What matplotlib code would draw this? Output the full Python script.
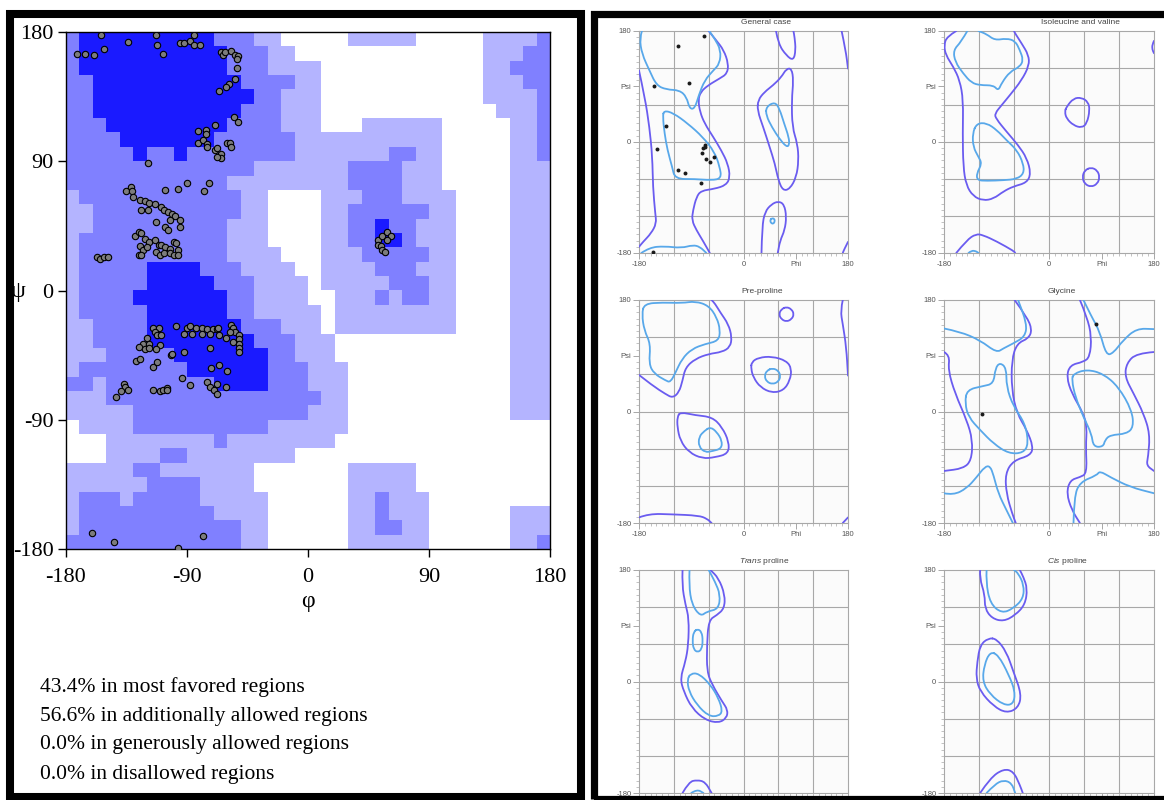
import numpy as np
import matplotlib
matplotlib.use("Agg")
import matplotlib.pyplot as plt
from matplotlib.colors import ListedColormap
from matplotlib.path import Path
from matplotlib.patches import PathPatch, Rectangle

plt.rcParams["mathtext.fontset"] = "custom"
plt.rcParams["mathtext.it"] = "Liberation Sans:italic"
plt.rcParams["mathtext.rm"] = "Liberation Sans"

# ---------------- data: PROCHECK-style region grid (10 deg cells, psi 180 -> -180 rows) ----------------
# 0 = disallowed, 1 = generously allowed, 2 = additionally allowed, 3 = most favoured
region_rows = [
    "233333333332221100000111110000011112",
    "233333333333222110000000000000011122",
    "233333333333222111100000000000011222",
    "223333333333322221100000000000011122",
    "223333333333332211100000000000011112",
    "223333333333322211100000000000001112",
    "222333333333222211100011111100000112",
    "222233333332222221111111111100000112",
    "222223223222222221111111221100000112",
    "222222222222221111111222211100000111",
    "222222222222111111111222211100000111",
    "122222222222211000011122211110000111",
    "112222222222211000011222222110000111",
    "112222222222111000011223221110000111",
    "122222222222111000011223321110000111",
    "122222222222111100011122222110000111",
    "122222333322211110011112221110000111",
    "122222333332221111011111222110000111",
    "122223333333221111001112122110000111",
    "122222333333221111101111111110000111",
    "112222333333322211101111111110000111",
    "112222333333332221110000000000000111",
    "111222223333333221110000000000000111",
    "122222222333333222111000000000000111",
    "221222222223333222111000000000000111",
    "111222222222222222211000000000000111",
    "111112222222222222111000000000000111",
    "011112222222222111111000000000000000",
    "000111111112111111110000000000000000",
    "000111122111111110000000000000000000",
    "111112211111110000000111110000000000",
    "111111222211110000000111110000000000",
    "122212222211111000000112111000000000",
    "122222222221111000000112111000000111",
    "122222222222211000000112211000000111",
    "222222222222211000000111111000000112",
]

rama_beta = [
    (-154, 178), (-113, 178), (-85, 178), (-134, 173), (-112, 171), (-95, 172), (-92, 172),
    (-88, 174), (-85, 171), (-80, 171), (-172, 165), (-166, 165), (-159, 164), (-152, 168),
    (-108, 165), (-65, 166), (-63, 164), (-62, 166), (-57, 167), (-54, 164), (-52, 163),
    (-53, 161), (-53, 155), (-54, 147), (-59, 144), (-61, 142), (-66, 139), (-55, 121),
    (-52, 117), (-69, 115), (-76, 112), (-82, 111), (-76, 109), (-82, 103), (-78, 105),
    (-75, 102), (-75, 100), (-69, 98), (-68, 99), (-65, 95), (-65, 92), (-68, 93), (-60, 103),
    (-58, 103), (-57, 100), (-119, 89),
    (-132, 72), (-135, 69), (-131, 69), (-130, 65), (-106, 70), (-97, 71), (-90, 75), (-74, 75),
    (-77, 69), (-125, 63), (-121, 62), (-118, 61), (-114, 60), (-109, 58), (-107, 56), (-104, 55),
    (-101, 53), (-99, 52), (-95, 49), (-124, 56), (-119, 56), (-113, 48), (-103, 49), (-106, 44),
    (-104, 42), (-95, 44), (-129, 38), (-126, 41), (-124, 40), (-121, 36), (-118, 34), (-114, 35),
    (-111, 32), (-109, 32), (-106, 30), (-103, 29), (-100, 34), (-98, 33), (-125, 31), (-123, 28),
    (-126, 25), (-124, 25), (-120, 30), (-113, 27), (-110, 25), (-107, 26), (-103, 26), (-100, 25),
    (-97, 28), (-97, 25), (-157, 23), (-155, 22), (-152, 23), (-149, 23),
    (-161, -169), (-144, -175), (-78, -171), (-97, -179),
]
rama_alpha = [
    (-115, -26), (-111, -26), (-114, -29), (-112, -31), (-109, -31), (-98, -25), (-90, -26),
    (-88, -25), (-83, -26), (-79, -26), (-75, -27), (-71, -27), (-68, -27), (-67, -26),
    (-92, -30), (-86, -30), (-79, -30), (-73, -30), (-57, -24), (-56, -26), (-54, -29), (-58, -29),
    (-51, -31), (-51, -34), (-51, -37), (-51, -40), (-51, -43), (-56, -36), (-61, -33), (-66, -31),
    (-120, -33), (-123, -37), (-118, -37), (-126, -39), (-121, -41), (-118, -40), (-110, -38),
    (-113, -41), (-73, -40), (-92, -43), (-102, -45), (-101, -44), (-128, -49), (-125, -48),
    (-115, -53), (-112, -50), (-72, -54), (-66, -52), (-60, -56), (-94, -61), (-88, -66),
    (-75, -64), (-73, -67), (-68, -65), (-61, -67), (-70, -69), (-68, -72), (-137, -65),
    (-136, -67), (-139, -70), (-143, -74), (-134, -69), (-115, -69), (-110, -70), (-108, -69),
    (-105, -68), (-105, -69),
]
rama_left = [(52, 35), (55, 38), (59, 41), (62, 38), (59, 35), (52, 32), (54, 31), (55, 28), (57, 27)]

rama_ticks = [-180, -90, 0, 90, 180]
rama_tick_labels = ["-180", "-90", "0", "90", "180"]
summary_lines = [
    "43.4% in most favored regions",
    "56.6% in additionally allowed regions",
    "0.0% in generously allowed regions",
    "0.0% in disallowed regions",
]

# ---------------- data: MolProbity-style contour panels (phi, psi); closed loops end where they start ----------------
general_outer = [
    [(-180, 116), (-170, 73), (-162, 24), (-157, -24), (-156, -73), (-152, -116), (-150, -132),
     (-159, -148), (-173, -162), (-180, -170)],
    [(-60, 180), (-47, 165), (-34, 149), (-26, 127), (-28, 111), (-41, 103), (-61, 92), (-74, 81),
     (-78, 68), (-75, 49), (-67, 30), (-52, 8), (-38, -14), (-27, -35), (-23, -57), (-30, -70),
     (-50, -76), (-73, -79), (-81, -89), (-87, -111), (-89, -127), (-81, -143), (-70, -160), (-58, -180)],
    [(25, 68), (36, 81), (51, 92), (65, 105), (74, 119), (83, 119), (86, 100), (83, 68), (84, 24),
     (93, -3), (95, -30), (91, -57), (80, -76), (68, -79), (60, -62), (54, -35), (45, -8), (34, 24),
     (24, 51), (25, 68)],
    [(56, 180), (60, 159), (74, 140), (86, 132), (90, 149), (88, 170), (86, 180)],
    [(31, -180), (32, -137), (37, -113), (48, -101), (60, -96), (70, -101), (74, -121), (71, -143),
     (63, -160), (59, -180)],
    [(169, 180), (176, 149), (180, 119)],
    [(180, -162), (173, -175), (171, -180)],
]
general_inner = [
    [(-175, 180), (-179, 168), (-175, 143), (-162, 116), (-150, 92), (-133, 85), (-110, 84),
     (-98, 73), (-93, 54), (-84, 54), (-77, 76), (-67, 100), (-52, 116), (-41, 127), (-39, 149),
     (-50, 168), (-59, 180)],
    [(-176, -180), (-162, -171), (-136, -169), (-107, -172), (-87, -167), (-75, -170), (-64, -180)],
    [(-137, 51), (-121, 47), (-96, 30), (-70, 8), (-50, -16), (-41, -40), (-38, -59), (-55, -62),
     (-84, -60), (-118, -60), (-123, -40), (-131, -13), (-136, 14), (-139, 41), (-137, 51)],
    [(39, 57), (54, 65), (62, 54), (70, 30), (78, 8), (79, -5), (74, -8), (62, 5), (49, 24),
     (39, 43), (39, 57)],
    [(48, -124), (53, -124), (54, -129), (51, -133), (47, -131), (46, -127), (48, -124)],
]
general_phi = [-68, -112, -94, -154, -133, -149, -67, -66, -69, -72, -64, -57, -51, -113, -101, -73, -156]
general_psi = [172, 156, 96, 91, 26, -11, -8, -5, -10, -18, -28, -32, -24, -45, -51, -67, -178]

ile_val_outer = [
    [(-159, 180), (-175, 171), (-180, 157), (-177, 141), (-164, 122), (-153, 100), (-147, 68),
     (-148, 14), (-147, -40), (-142, -70), (-130, -88), (-113, -95), (-95, -92), (-78, -80),
     (-61, -72), (-38, -66), (-31, -51), (-38, -26), (-53, -5), (-73, 17), (-91, 38), (-93, 46),
     (-81, 60), (-67, 76), (-47, 100), (-34, 124), (-35, 141), (-47, 160), (-58, 176), (-60, 180)],
    [(30, 57), (42, 71), (56, 72), (67, 65), (70, 52), (65, 30), (56, 23), (42, 27), (30, 38),
     (27, 49), (30, 57)],
    [(72, -41), (83, -46), (87, -57), (83, -68), (72, -73), (61, -68), (57, -57), (61, -46), (72, -41)],
    [(180, 164), (177, 158), (177, 150), (180, 144)],
    [(-159, -180), (-141, -159), (-125, -149), (-113, -151), (-90, -161), (-60, -177), (-58, -180)],
]
ile_val_inner = [
    [(-140, 180), (-151, 162), (-164, 149), (-161, 130), (-147, 111), (-133, 96), (-118, 92),
     (-95, 92), (-87, 83), (-81, 96), (-67, 114), (-50, 122), (-44, 133), (-50, 149), (-58, 164),
     (-73, 168), (-93, 165), (-107, 175), (-121, 180)],
    [(-124, 30), (-107, 31), (-89, 19), (-73, 3), (-55, -13), (-44, -35), (-43, -51), (-55, -60),
     (-78, -62), (-107, -63), (-123, -62), (-124, -51), (-115, -35), (-121, -24), (-130, -8),
     (-131, 14), (-124, 30)],
    [(-138, -180), (-133, -176), (-125, -177), (-121, -180)],
]

pre_pro_outer = [
    [(-180, 59), (-157, 42), (-134, 28), (-122, 22), (-111, 31), (-105, 50), (-100, 71), (-83, 85),
     (-60, 93), (-37, 96), (-23, 104), (-20, 120), (-26, 141), (-40, 160), (-49, 174), (-55, 180)],
    [(-180, -171), (-163, -165), (-123, -166), (-77, -168), (-63, -173), (-55, -180)],
    [(74, 169), (83, 165), (87, 157), (83, 149), (74, 145), (65, 149), (61, 157), (65, 165), (74, 169)],
    [(14, 80), (26, 87), (49, 89), (74, 82), (83, 69), (80, 50), (69, 34), (49, 30), (29, 39),
     (17, 55), (13, 69), (14, 80)],
    [(-109, -1), (-83, -6), (-54, -9), (-37, -25), (-25, -49), (-26, -68), (-49, -74), (-71, -76),
     (-94, -66), (-109, -47), (-114, -25), (-114, -9), (-109, -1)],
    [(171, 180), (167, 163), (171, 141), (177, 104), (180, 58)],
    [(171, -180), (180, -171)],
]
pre_pro_inner = [
    [(-171, 174), (-140, 176), (-106, 175), (-83, 178), (-60, 171), (-46, 152), (-40, 131),
     (-43, 114), (-66, 109), (-89, 101), (-106, 85), (-117, 63), (-126, 47), (-134, 50),
     (-154, 61), (-163, 77), (-160, 109), (-171, 131), (-175, 157), (-171, 174)],
    [(50, 70), (60, 66), (64, 57), (60, 48), (50, 44), (40, 48), (36, 57), (40, 66), (50, 70)],
    [(-57, -25), (-46, -33), (-37, -47), (-38, -60), (-54, -64), (-66, -66), (-77, -57), (-77, -41),
     (-67, -31), (-57, -25)],
]

glycine_outer = [
    [(-180, 96), (-170, 91), (-173, 67), (-161, 29), (-141, -14), (-131, -46), (-133, -79),
     (-147, -92), (-180, -96)],
    [(-59, 180), (-38, 153), (-29, 132), (-35, 118), (-55, 110), (-64, 83), (-64, 35), (-55, -3),
     (-38, -30), (-27, -57), (-32, -71), (-61, -79), (-75, -100), (-73, -133), (-63, -165), (-57, -180)],
    [(53, 180), (65, 153), (73, 121), (70, 88), (59, 80), (36, 75), (30, 56), (39, 29), (59, -3),
     (65, -25), (63, -57), (65, -100), (53, -106), (36, -111), (30, -132), (39, -159), (53, -180)],
    [(180, 96), (150, 94), (133, 78), (130, 56), (145, 29), (162, -3), (173, -36), (170, -73),
     (167, -87), (180, -96)],
]
glycine_inner = [
    [(-180, 134), (-153, 129), (-118, 115), (-90, 95), (-78, 102), (-61, 110), (-41, 121),
     (-38, 142), (-53, 180)],
    [(-141, 35), (-113, 41), (-95, 45), (-92, 70), (-84, 79), (-73, 70), (-73, 40), (-61, 8),
     (-41, -19), (-35, -52), (-44, -67), (-69, -68), (-95, -52), (-118, -30), (-138, -9),
     (-144, 13), (-141, 35)],
    [(-180, -132), (-164, -135), (-141, -124), (-124, -106), (-110, -89), (-101, -88), (-95, -103),
     (-87, -132), (-73, -159), (-62, -180)],
    [(59, 180), (73, 153), (87, 129), (98, 91), (110, 94), (127, 115), (150, 134), (180, 133)],
    [(42, 61), (65, 68), (93, 61), (119, 40), (142, 2), (145, -25), (133, -36), (105, -38),
     (96, -46), (93, -57), (76, -57), (73, -36), (59, -9), (45, 24), (39, 51), (42, 61)],
    [(42, -180), (43, -138), (53, -114), (82, -103), (87, -96), (105, -106), (139, -122), (180, -132)],
]
glycine_phi = [-115, 81]
glycine_psi = [-4, 142]

trans_pro_outer = [
    [(-105, 180), (-106, 156), (-100, 124), (-94, 102), (-95, 59), (-100, 32), (-109, 5),
     (-103, -16), (-89, -43), (-66, -62), (-43, -67), (-29, -59), (-27, -46), (-37, -32),
     (-54, -5), (-63, 16), (-63, 59), (-60, 99), (-46, 107), (-33, 118), (-32, 140), (-43, 167),
     (-57, 180)],
    [(-105, -180), (-94, -162), (-80, -159), (-66, -162), (-55, -180)],
]
trans_pro_inner = [
    [(-93, 180), (-94, 156), (-89, 124), (-74, 105), (-63, 113), (-43, 117), (-40, 140),
     (-49, 161), (-60, 180)],
    [(-79, 85), (-72, 80), (-70, 66), (-72, 52), (-79, 47), (-86, 52), (-88, 66), (-86, 80), (-79, 85)],
    [(-91, 13), (-77, 13), (-57, -5), (-43, -27), (-36, -48), (-43, -56), (-60, -56), (-80, -38),
     (-94, -16), (-97, 3), (-91, 13)],
    [(-90, -180), (-80, -174), (-69, -180)],
]

cis_pro_outer = [
    [(-118, 180), (-119, 167), (-110, 140), (-110, 118), (-98, 102), (-78, 97), (-58, 107),
     (-41, 124), (-37, 150), (-44, 169), (-50, 180)],
    [(-104, 70), (-118, 59), (-123, 32), (-125, 5), (-118, -16), (-95, -40), (-73, -51),
     (-53, -43), (-47, -21), (-61, 16), (-73, 48), (-90, 69), (-104, 70)],
    [(-118, -180), (-101, -156), (-78, -141), (-61, -145), (-50, -167), (-45, -180)],
]
cis_pro_inner = [
    [(-107, 180), (-108, 161), (-101, 126), (-81, 110), (-61, 118), (-44, 134), (-43, 156),
     (-53, 175), (-60, 180)],
    [(-101, 48), (-111, 27), (-114, 0), (-101, -21), (-78, -38), (-61, -37), (-58, -16),
     (-69, 11), (-87, 43), (-101, 48)],
    [(-107, -180), (-93, -166), (-78, -159), (-64, -164), (-58, -180)],
]

# ---------------- figure ----------------
W, H = 1164, 800
fig = plt.figure(figsize=(W / 100, H / 100), dpi=100)
fig.patch.set_facecolor("white")

SERIF = ["Liberation Serif", "DejaVu Serif"]
SANS = ["Liberation Sans", "DejaVu Sans"]
OUTER = "#6a5cf0"
INNER = "#58a8ea"


def px_axes(x0, y0, x1, y1):
    return fig.add_axes([x0 / W, 1 - y1 / H, (x1 - x0) / W, (y1 - y0) / H])


def curve_path(pts):
    closed = pts[0] == pts[-1]
    v = np.asarray(pts[:-1] if closed else pts, dtype=float)
    if closed:
        mids = (v + np.roll(v, -1, axis=0)) / 2
        verts, codes = [mids[-1]], [Path.MOVETO]
        for i in range(len(v)):
            verts += [v[i], mids[i]]
            codes += [Path.CURVE3, Path.CURVE3]
    else:
        verts, codes = [v[0]], [Path.MOVETO]
        for i in range(1, len(v) - 1):
            verts += [v[i], (v[i] + v[i + 1]) / 2]
            codes += [Path.CURVE3, Path.CURVE3]
        verts.append(v[-1])
        codes.append(Path.LINETO)
    return Path(verts, codes)


def draw_lines(ax, contours, color):
    for pts in contours:
        ax.add_patch(PathPatch(curve_path(pts), fill=False, edgecolor=color, lw=1.3,
                               joinstyle="round", capstyle="round", zorder=3))


# ---- left: Ramachandran regions ----
assert all(len(r) == 36 for r in region_rows) and len(region_rows) == 36
grid = np.array([[int(c) for c in row] for row in region_rows])
ax = px_axes(66, 32, 550, 549)
cmap = ListedColormap(["white", "#b4b4ff", "#8080ff", "#1a1aff"])
ax.imshow(grid, cmap=cmap, vmin=0, vmax=3, extent=(-180, 180, -180, 180),
          interpolation="nearest", aspect="auto", zorder=1)
for group in (rama_beta, rama_alpha, rama_left):
    ph, ps = zip(*group)
    ax.scatter(ph, ps, s=21, c="#7c7c7c", edgecolors="black", linewidths=0.8, zorder=3)
ax.set_xlim(-180, 180)
ax.set_ylim(-180, 180)
ax.set_xticks(rama_ticks, rama_tick_labels)
ax.set_yticks(rama_ticks, rama_tick_labels)
ax.tick_params(direction="out", length=6, width=1, labelsize=16)
ax.tick_params(axis="x", pad=8)
ax.tick_params(axis="y", pad=3)
for lab in ax.get_xticklabels() + ax.get_yticklabels():
    lab.set_fontfamily(SERIF)
for s in ax.spines.values():
    s.set_linewidth(1)
fig.text(18 / W, 1 - 291 / H, "ψ", fontsize=17, family=SERIF, ha="center", va="center")
fig.text(308 / W, 1 - 602 / H, "φ", fontsize=17, family=SERIF, ha="center", va="center")
for k, line in enumerate(summary_lines):
    fig.text(40 / W, 1 - (687 + 29 * k) / H, line, fontsize=15.5, family=SERIF,
             ha="left", va="center")

# ---- right: contour panels ----
panels = [
    ("General case", 639, 31, 848, 253, general_outer, general_inner, general_phi, general_psi, 0.61),
    ("Isoleucine and valine", 944, 31, 1154, 253, ile_val_outer, ile_val_inner, [], [], 0.65),
    ("Pre-proline", 639, 300, 848, 523, pre_pro_outer, pre_pro_inner, [], [], 0.59),
    ("Glycine", 944, 300, 1154, 523, glycine_outer, glycine_inner, glycine_phi, glycine_psi, 0.56),
    (r"$\mathit{Trans}$ proline", 639, 570, 848, 793, trans_pro_outer, trans_pro_inner, [], [], 0.6),
    (r"$\mathit{Cis}$ proline", 944, 570, 1154, 793, cis_pro_outer, cis_pro_inner, [], [], 0.59),
]
for k, (title, x0, y0, x1, y1, outer, inner, pphi, ppsi, tx) in enumerate(panels):
    a = px_axes(x0, y0, x1, y1)
    a.set_xlim(-180, 180)
    a.set_ylim(-180, 180)
    a.set_facecolor("#fbfbfb")
    for g in (-120, -60, 0, 60, 120):
        a.axvline(g, color="#a8a8a8", lw=0.8, zorder=1)
        a.axhline(g, color="#a8a8a8", lw=0.8, zorder=1)
    for s in a.spines.values():
        s.set_color("#a8a8a8")
        s.set_linewidth(0.8)
    draw_lines(a, outer, OUTER)
    draw_lines(a, inner, INNER)
    if pphi:
        a.scatter(pphi, ppsi, s=8, c="#1a1a1a", zorder=4, linewidths=0)
    a.set_xticks([-180, 0, 90, 180], ["-180", "0", "Phi", "180"])
    a.set_yticks([-180, 0, 90, 180], ["-180", "0", "Psi", "180"])
    a.set_xticks(np.arange(-180, 181, 10), minor=True)
    a.set_yticks(np.arange(-180, 181, 10), minor=True)
    a.tick_params(which="major", length=4, width=0.6, color="#999999",
                  labelsize=5.5, labelcolor="#555555", pad=1.5)
    a.tick_params(which="minor", length=2.2, width=0.5, color="#aaaaaa")
    if k >= 4:
        a.tick_params(labelbottom=False)
    for lab in a.get_xticklabels() + a.get_yticklabels():
        lab.set_fontfamily(SANS)
    a.text(tx, 1.04, title, transform=a.transAxes, ha="center", va="center",
           fontsize=6, color="#444444", family=SANS)

# ---- black frames around both halves ----
fig.add_artist(Rectangle((9.5 / W, 1 - 796.5 / H), (581 - 9.5) / W, (796.5 - 14) / H,
                         transform=fig.transFigure, fill=False, lw=5.8, ec="black", zorder=10))
fig.add_artist(Rectangle((594 / W, 1 - 798.5 / H), (1180 - 594) / W, (798.5 - 13.5) / H,
                         transform=fig.transFigure, fill=False, lw=5.2, ec="black", zorder=10))

fig.savefig("out.png", dpi=100)
